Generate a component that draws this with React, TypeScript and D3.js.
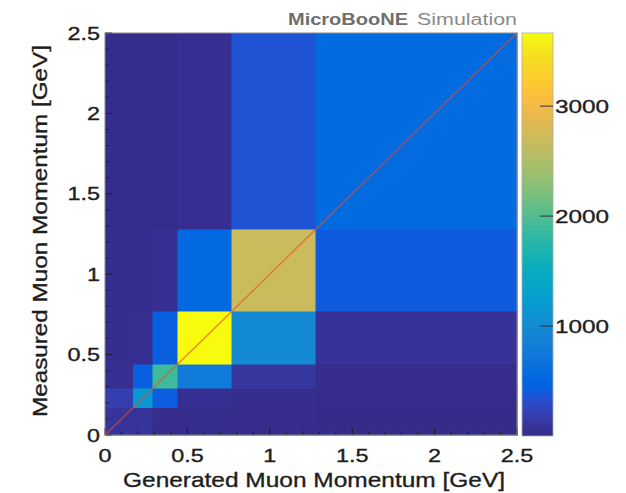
import * as d3 from "d3";
import React from "react";

// bin edges in GeV (generated = x, measured = y)
const xEdges = [0, 0.17, 0.29, 0.44, 0.77, 1.28, 2.5];
const yEdges = [0, 0.17, 0.29, 0.44, 0.77, 1.28, 2.5];

// counts per measured-momentum bin (bottom to top), one value per generated bin
const row1 = [90, 90, 30, 25, 20, 15];
const row2 = [180, 1170, 420, 60, 35, 20];
const row3 = [50, 430, 1900, 780, 110, 30];
const row4 = [40, 50, 440, 3665, 990, 75];
const row5 = [35, 35, 60, 530, 2690, 410];
const row6 = [25, 25, 25, 50, 350, 555];
const rows = [row1, row2, row3, row4, row5, row6];

const axisTicks = [0, 0.5, 1, 1.5, 2, 2.5];
const axisLabels = ["0", "0.5", "1", "1.5", "2", "2.5"];
const cbarTicks = [1000, 2000, 3000];
const cbarLabels = ["1000", "2000", "3000"];
const cMax = 3665;

// MATLAB parula (R2014b), 64 entries
const parula = [
  [0.2081, 0.1663, 0.5292], [0.2116, 0.1898, 0.5777], [0.2123, 0.2138, 0.627], [0.2081, 0.2386, 0.6771],
  [0.1959, 0.2645, 0.7279], [0.1707, 0.2919, 0.7792], [0.1253, 0.3242, 0.8303], [0.0591, 0.3598, 0.8683],
  [0.0117, 0.3875, 0.882], [0.006, 0.4086, 0.8828], [0.0165, 0.4266, 0.8786], [0.0329, 0.443, 0.872],
  [0.0498, 0.4586, 0.8641], [0.0629, 0.4737, 0.8554], [0.0723, 0.4887, 0.8467], [0.0779, 0.504, 0.8384],
  [0.0793, 0.52, 0.8312], [0.0749, 0.5375, 0.8263], [0.0641, 0.557, 0.824], [0.0488, 0.5772, 0.8228],
  [0.0343, 0.5966, 0.8199], [0.0265, 0.6137, 0.8135], [0.0239, 0.6287, 0.8038], [0.0231, 0.6418, 0.7913],
  [0.0228, 0.6535, 0.7768], [0.0267, 0.6642, 0.7607], [0.0384, 0.6743, 0.7436], [0.059, 0.6838, 0.7254],
  [0.0843, 0.6928, 0.7062], [0.1133, 0.7015, 0.6859], [0.1453, 0.7098, 0.6646], [0.1801, 0.7177, 0.6424],
  [0.2178, 0.725, 0.6193], [0.2586, 0.7317, 0.5954], [0.3022, 0.7376, 0.5712], [0.3482, 0.7424, 0.5473],
  [0.3953, 0.7459, 0.5244], [0.442, 0.7481, 0.5033], [0.4871, 0.7491, 0.484], [0.53, 0.7491, 0.4661],
  [0.5709, 0.7485, 0.4494], [0.6099, 0.7473, 0.4337], [0.6473, 0.7456, 0.4188], [0.6834, 0.7435, 0.4044],
  [0.7184, 0.7411, 0.3905], [0.7525, 0.7384, 0.3768], [0.7858, 0.7356, 0.3633], [0.8185, 0.7327, 0.3498],
  [0.8507, 0.7299, 0.336], [0.8824, 0.7274, 0.3217], [0.9139, 0.7258, 0.3063], [0.945, 0.7261, 0.2886],
  [0.9739, 0.7314, 0.2666], [0.9938, 0.7455, 0.2403], [0.999, 0.7653, 0.2164], [0.9955, 0.7861, 0.1967],
  [0.988, 0.8066, 0.1794], [0.9789, 0.8271, 0.1633], [0.9697, 0.8481, 0.1475], [0.9626, 0.8705, 0.1309],
  [0.9589, 0.8949, 0.1132], [0.9598, 0.9218, 0.0948], [0.9661, 0.9514, 0.0755], [0.9763, 0.9831, 0.0538],
].map(([r, g, b]) => d3.rgb(r * 255, g * 255, b * 255).formatHex());

const colorScale = d3
  .scaleSequential(d3.piecewise(d3.interpolateRgb, parula))
  .domain([0, cMax])
  .clamp(true);

const FONT = "'Liberation Sans', Arial, Helvetica, sans-serif";
const INK = "#1e1e1e";

function SText({ x, y, sx = 1.3, anchor = "start", size = 18, children, ...rest }: any) {
  return (
    <text
      transform={`translate(${x},${y}) scale(${sx},1)`}
      textAnchor={anchor}
      fontSize={size}
      fontFamily={FONT}
      fill={INK}
      stroke={INK}
      strokeWidth={0.35}
      {...rest}
    >
      {children}
    </text>
  );
}

export default function App() {
  const width = 626;
  const height = 493;
  const xs = d3.scaleLinear().domain([0, 2.5]).range([105, 517]);
  const ys = d3.scaleLinear().domain([0, 2.5]).range([435, 33]);
  const cs = d3.scaleLinear().domain([0, cMax]).range([436, 33]);
  const cbX = 522;
  const cbW = 31;
  const minor = xs.ticks(25);

  return (
    <svg
      width={width}
      height={height}
      style={{ position: "absolute", left: 0, top: 0, background: "#fff" }}
    >
      <defs>
        <linearGradient id="parula" x1="0" y1="1" x2="0" y2="0">
          {parula.map((c, i) => (
            <stop key={i} offset={i / (parula.length - 1)} stopColor={c} />
          ))}
        </linearGradient>
      </defs>

      {/* cells */}
      <g shapeRendering="crispEdges">
        {rows.map((row, j) =>
          row.map((v, i) => (
            <rect
              key={`${i}-${j}`}
              x={xs(xEdges[i])}
              y={ys(yEdges[j + 1])}
              width={xs(xEdges[i + 1]) - xs(xEdges[i])}
              height={ys(yEdges[j]) - ys(yEdges[j + 1])}
              fill={colorScale(v)}
              stroke={colorScale(v)}
              strokeWidth={0.5}
            />
          ))
        )}
      </g>

      {/* diagonal */}
      <line
        x1={xs(0)}
        y1={ys(0)}
        x2={xs(2.5)}
        y2={ys(2.5)}
        stroke="rgb(235,75,35)"
        strokeOpacity={0.65}
        strokeWidth={1.4}
      />

      {/* ticks */}
      <g stroke="#1a1a1a" strokeWidth={1}>
        {minor.map((t) => {
          const major = Math.abs(t * 2 - Math.round(t * 2)) < 1e-6;
          const len = major ? 7 : 3.5;
          return (
            <g key={t}>
              <line x1={xs(t)} x2={xs(t)} y1={435} y2={435 - len} />
              <line x1={105} x2={105 + len} y1={ys(t)} y2={ys(t)} />
            </g>
          );
        })}
      </g>

      {/* frame */}
      <rect x={105} y={33} width={412} height={402} fill="none" stroke="#8a8a8a" strokeWidth={1} />

      {/* tick labels */}
      {axisTicks.map((t, i) => (
        <SText key={`x${t}`} x={xs(t)} y={462} anchor="middle">
          {axisLabels[i]}
        </SText>
      ))}
      {axisTicks.map((t, i) => (
        <SText key={`y${t}`} x={100} y={ys(t) + 6.5} anchor="end">
          {axisLabels[i]}
        </SText>
      ))}

      {/* axis titles */}
      <text
        x={314}
        y={487}
        textAnchor="middle"
        fontSize={21}
        fontFamily={FONT}
        fill={INK}
        stroke={INK}
        strokeWidth={0.35}
        textLength={382}
        lengthAdjust="spacingAndGlyphs"
      >
        Generated Muon Momentum [GeV]
      </text>
      <text
        transform={`translate(47,231) rotate(-90)`}
        textAnchor="middle"
        fontSize={21}
        fontFamily={FONT}
        fill={INK}
        stroke={INK}
        strokeWidth={0.35}
        textLength={372}
        lengthAdjust="spacingAndGlyphs"
      >
        Measured Muon Momentum [GeV]
      </text>

      {/* label */}
      <text y={25} fontFamily={FONT} fontSize={16}>
        <tspan x={288} fill="#6e6e6e" fontWeight="bold" textLength={120} lengthAdjust="spacingAndGlyphs">
          MicroBooNE
        </tspan>
        <tspan x={417} fill="#8a8a8a" textLength={100} lengthAdjust="spacingAndGlyphs">
          Simulation
        </tspan>
      </text>

      {/* colorbar */}
      <rect x={cbX} y={33} width={cbW} height={403} fill="url(#parula)" stroke="#aaa" strokeWidth={0.8} />
      <g stroke="#333" strokeWidth={1}>
        {cbarTicks.map((t) => (
          <line key={t} x1={cbX + cbW - 13} x2={cbX + cbW} y1={cs(t)} y2={cs(t)} />
        ))}
      </g>
      {cbarTicks.map((t, i) => (
        <SText key={t} x={555} y={cs(t) + 7} size={19} sx={1.28}>
          {cbarLabels[i]}
        </SText>
      ))}
    </svg>
  );
}
